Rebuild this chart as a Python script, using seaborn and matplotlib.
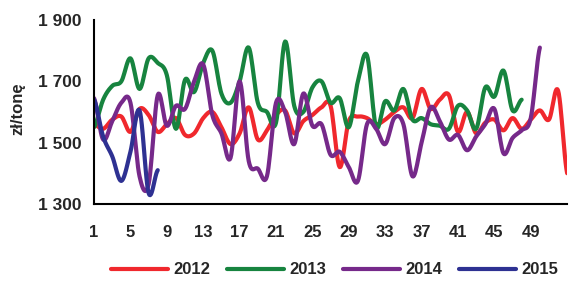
import numpy as np
import pandas as pd
import seaborn as sns
import matplotlib
matplotlib.use("Agg")
import matplotlib.pyplot as plt
from matplotlib.ticker import FuncFormatter

# weekly prices, zl/tone
prices_2012 = [1560, 1545, 1575, 1585, 1535, 1610, 1590, 1535, 1560, 1580,
               1525, 1530, 1580, 1600, 1550, 1495, 1530, 1615, 1510, 1540,
               1590, 1605, 1530, 1570, 1590, 1615, 1620, 1420, 1570, 1585,
               1580, 1560, 1575, 1600, 1615, 1580, 1675, 1610, 1640, 1655,
               1535, 1600, 1530, 1565, 1575, 1540, 1580, 1545, 1575, 1605,
               1575, 1670, 1400]
prices_2013 = [1550, 1640, 1685, 1700, 1775, 1675, 1775, 1760, 1720, 1545,
               1705, 1665, 1760, 1800, 1660, 1630, 1700, 1810, 1630, 1600,
               1565, 1830, 1620, 1600, 1680, 1700, 1630, 1645, 1550, 1700,
               1785, 1550, 1635, 1605, 1675, 1575, 1580, 1560, 1555, 1545,
               1620, 1605, 1545, 1680, 1650, 1735, 1605, 1640]
prices_2014 = [1645, 1510, 1570, 1630, 1630, 1390, 1365, 1655, 1555, 1620,
               1610, 1700, 1755, 1590, 1530, 1450, 1700, 1440, 1415, 1390,
               1630, 1600, 1495, 1660, 1555, 1560, 1460, 1470, 1420, 1375,
               1560, 1545, 1495, 1580, 1560, 1390, 1500, 1615, 1570, 1510,
               1525, 1475, 1520, 1560, 1610, 1465, 1515, 1540, 1580, 1810]
prices_2015 = [1640, 1520, 1455, 1375, 1470, 1605, 1335, 1410]

series = {"2012": prices_2012, "2013": prices_2013,
          "2014": prices_2014, "2015": prices_2015}
colors = {"2012": "#F0282D", "2013": "#17843F", "2014": "#76298A", "2015": "#2E3192"}
week_ticks = list(range(1, 54, 4))


def smooth(values, steps=12):
    # smoothed line like the spreadsheet's, bezier through every point
    p = np.array(values, dtype=float)
    x = np.arange(1, len(p) + 1, dtype=float)
    xs, ys = [], []
    t = np.linspace(0, 1, steps, endpoint=False)
    for i in range(len(p) - 1):
        p0 = p[max(i - 1, 0)]
        p3 = p[min(i + 2, len(p) - 1)]
        c1 = p[i] + (p[i + 1] - p0) / 6
        c2 = p[i + 1] - (p3 - p[i]) / 6
        yy = ((1 - t) ** 3 * p[i] + 3 * (1 - t) ** 2 * t * c1
              + 3 * (1 - t) * t ** 2 * c2 + t ** 3 * p[i + 1])
        xs.extend(x[i] + t)
        ys.extend(yy)
    xs.append(x[-1])
    ys.append(p[-1])
    return xs, ys


rows = []
for year, vals in series.items():
    xs, ys = smooth(vals)
    rows.append(pd.DataFrame({"week": xs, "price": ys, "year": year}))
df = pd.concat(rows, ignore_index=True)

sns.set_style("white")
plt.rcParams["font.family"] = ["Liberation Sans", "DejaVu Sans"]
plt.rcParams["font.weight"] = "bold"

fig = plt.figure(figsize=(5.7, 2.82), dpi=100)
ax = fig.add_axes([0.165, 0.277, 0.83, 0.652])

sns.lineplot(data=df, x="week", y="price", hue="year", palette=colors,
             estimator=None, sort=False, linewidth=3.0, ax=ax, legend=False)

ax.set_xlim(1, 53)
ax.set_ylim(1300, 1900)
ax.set_yticks([1300, 1500, 1700, 1900])
ax.yaxis.set_major_formatter(FuncFormatter(lambda v, _: f"{int(v):,}".replace(",", " ")))
ax.set_xticks(week_ticks)
ax.set_xticklabels([str(w) if w < 53 else "" for w in week_ticks])
ax.set_xlabel("")
ax.set_ylabel("zł/tonę", fontsize=12, fontweight="bold")
ax.yaxis.set_label_coords(-0.145, 0.52)

for side in ["top", "right"]:
    ax.spines[side].set_visible(False)
for side in ["left", "bottom"]:
    ax.spines[side].set_color("black")
    ax.spines[side].set_linewidth(1.5)

ax.tick_params(axis="y", direction="out", length=5, width=1.5, labelsize=12.5, pad=4)
ax.tick_params(axis="x", direction="inout", length=7, width=1.5, labelsize=12, pad=12)
for lbl in ax.get_xticklabels() + ax.get_yticklabels():
    lbl.set_fontweight("bold")

handles = [plt.Line2D([], [], color=colors[y], linewidth=3.0) for y in series]
ax.legend(handles, list(series.keys()), loc="center", bbox_to_anchor=(0.587, 0.043),
          bbox_transform=fig.transFigure, ncol=4, frameon=False,
          prop={"size": 12, "weight": "bold"}, handlelength=3.4,
          handletextpad=0.35, columnspacing=1.0)

fig.savefig("out.png", dpi=100)
